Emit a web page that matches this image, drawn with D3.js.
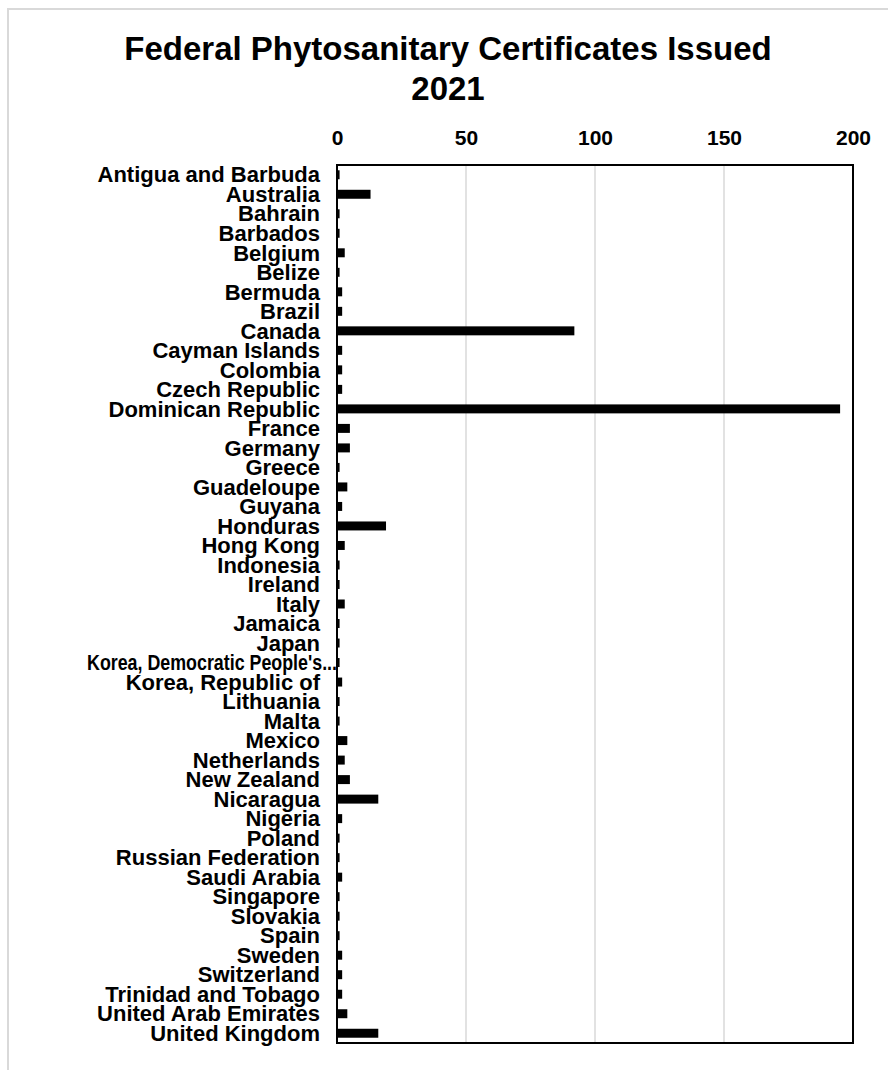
<!DOCTYPE html>
<html lang="en">
<head>
  <meta charset="UTF-8">
  <title>Federal Phytosanitary Certificates Issued 2021</title>
  <script src="https://d3js.org/d3.v7.min.js"></script>
  <style>
    body { margin: 0; background: #fff; }
    svg { display: block; font-family: "Liberation Sans", Arial, sans-serif; }
    .label { font-size: 22px; font-weight: bold; fill: #000; }
    .tick text { font-size: 21px; font-weight: bold; fill: #000; }
    .grid line { stroke: #d9d9d9; stroke-width: 1.5; }
  </style>
</head>
<body>
  <svg width="888" height="1070"></svg>

  <script>
    const countries = [
      "Antigua and Barbuda", "Australia", "Bahrain", "Barbados", "Belgium", "Belize",
      "Bermuda", "Brazil", "Canada", "Cayman Islands", "Colombia", "Czech Republic",
      "Dominican Republic", "France", "Germany", "Greece", "Guadeloupe", "Guyana",
      "Honduras", "Hong Kong", "Indonesia", "Ireland", "Italy", "Jamaica", "Japan",
      "Korea, Democratic People's...", "Korea, Republic of", "Lithuania", "Malta",
      "Mexico", "Netherlands", "New Zealand", "Nicaragua", "Nigeria", "Poland",
      "Russian Federation", "Saudi Arabia", "Singapore", "Slovakia", "Spain",
      "Sweden", "Switzerland", "Trinidad and Tobago", "United Arab Emirates",
      "United Kingdom"
    ];
    const certificates = [
      1, 13, 1, 1, 3, 1,
      2, 2, 92, 2, 2, 2,
      195, 5, 5, 1, 4, 2,
      19, 3, 1, 1, 3, 1, 1,
      1, 2, 1, 1,
      4, 3, 5, 16, 2, 1,
      1, 2, 1, 1, 1,
      2, 2, 2, 4,
      16
    ];
    const xTicks = [0, 50, 100, 150, 200];
    const titleLines = ["Federal Phytosanitary Certificates Issued", "2021"];

    const data = countries.map((c, i) => ({ name: c, value: certificates[i] }));

    const svg = d3.select("svg");
    const margin = { top: 165, right: 35, bottom: 27, left: 337 };
    const width = 888, height = 1070;

    // outer chart frame
    svg.append("rect")
      .attr("x", 8).attr("y", 9)
      .attr("width", 900).attr("height", 1100)
      .attr("fill", "none")
      .attr("stroke", "#d9d9d9")
      .attr("stroke-width", 2);

    // title
    svg.append("text")
      .attr("x", 448)
      .attr("y", 60)
      .attr("text-anchor", "middle")
      .style("font-size", "33px")
      .style("font-weight", "bold")
      .selectAll("tspan")
      .data(titleLines)
      .join("tspan")
      .attr("x", 448)
      .attr("dy", (d, i) => i === 0 ? 0 : 40)
      .text(d => d);

    const x = d3.scaleLinear()
      .domain([0, 200])
      .range([margin.left, width - margin.right]);

    const y = d3.scaleBand()
      .domain(countries)
      .range([margin.top, height - margin.bottom])
      .paddingInner(0.54)
      .paddingOuter(0.27);

    // gridlines
    svg.append("g")
      .attr("class", "grid")
      .selectAll("line")
      .data(xTicks.slice(1, -1))
      .join("line")
      .attr("x1", d => x(d)).attr("x2", d => x(d))
      .attr("y1", margin.top).attr("y2", height - margin.bottom);

    // bars
    svg.append("g")
      .selectAll("rect")
      .data(data)
      .join("rect")
      .attr("x", x(0))
      .attr("y", d => y(d.name))
      .attr("width", d => x(d.value) - x(0))
      .attr("height", y.bandwidth())
      .attr("fill", "#000");

    // top axis
    const xAxis = svg.append("g")
      .attr("transform", `translate(0, ${margin.top - 20})`)
      .call(d3.axisTop(x).tickValues(xTicks).tickSize(0).tickFormat(d3.format("d")));
    xAxis.select(".domain").remove();
    xAxis.selectAll("text").attr("dy", 0).attr("y", 0);

    // category labels (the long truncated one is squeezed to fit, as in the original)
    svg.append("g")
      .selectAll("text")
      .data(data)
      .join("text")
      .attr("class", "label")
      .attr("x", d => d.name.endsWith("...") ? 337 : 320)
      .attr("y", d => y(d.name) + y.bandwidth() / 2)
      .attr("dy", "0.35em")
      .attr("text-anchor", "end")
      .each(function(d) {
        if (d.name.endsWith("...")) {
          d3.select(this).attr("textLength", 250).attr("lengthAdjust", "spacingAndGlyphs");
        }
      })
      .text(d => d.name);

    // plot border
    svg.append("rect")
      .attr("x", margin.left)
      .attr("y", margin.top)
      .attr("width", width - margin.right - margin.left)
      .attr("height", height - margin.bottom - margin.top)
      .attr("fill", "none")
      .attr("stroke", "#000")
      .attr("stroke-width", 2);
  </script>
</body>
</html>
